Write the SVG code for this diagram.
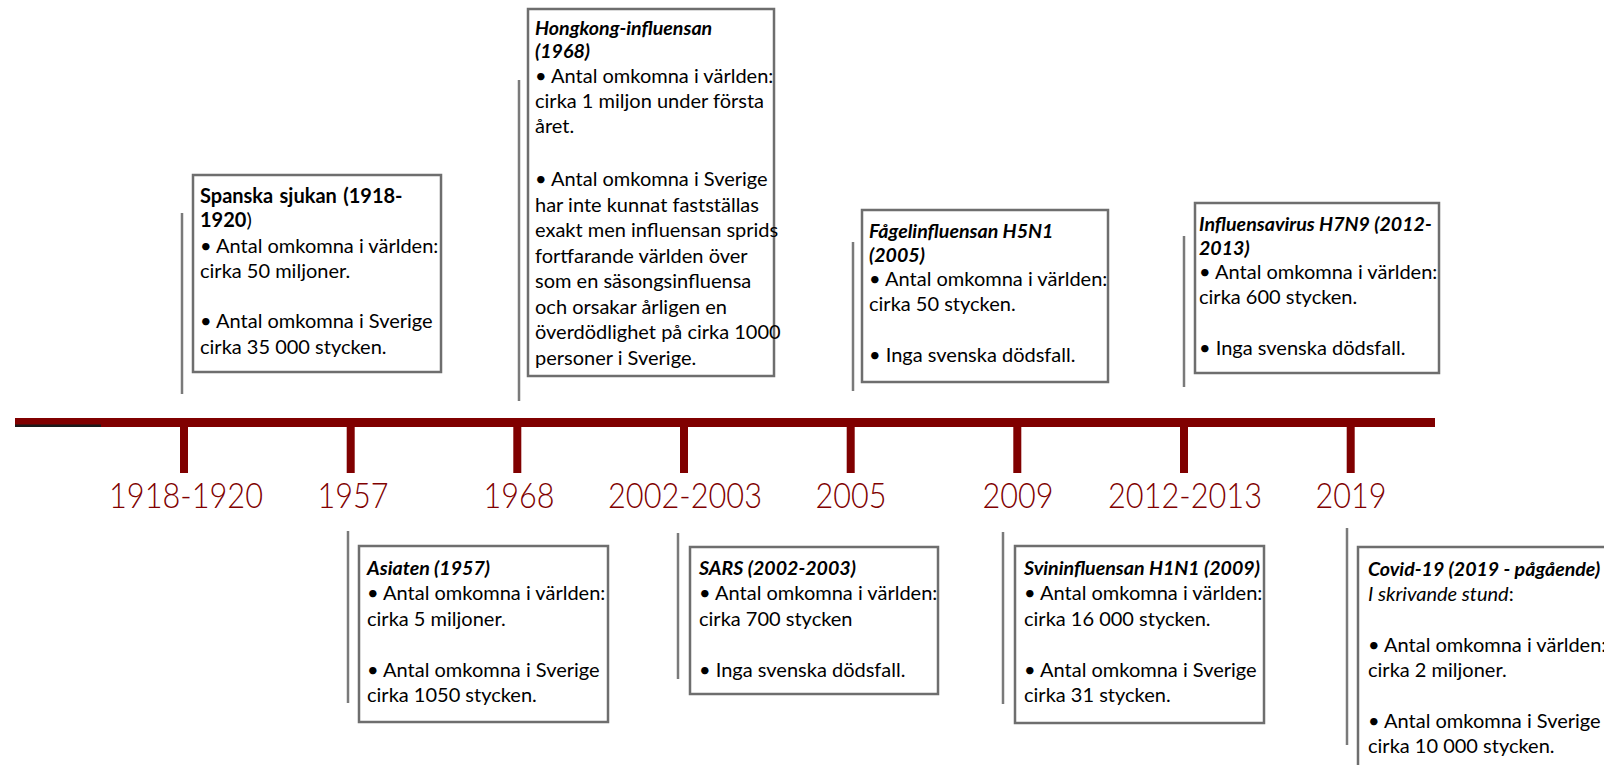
<svg xmlns="http://www.w3.org/2000/svg" width="1604" height="765" viewBox="0 0 1604 765">
  <style>
    .box { fill: #ffffff; stroke: #6e6e6e; stroke-width: 2.5; }
    .lead { stroke: #7a7a7a; stroke-width: 2.5; fill: none; }
    .bar { fill: #800000; }
    .t { font-family: Lato, "Liberation Sans", sans-serif; font-size: 20px; fill: #000000; }
    .h { font-weight: bold; font-style: italic; font-size: 19.6px; }
    .b { font-weight: bold; }
    .n { font-weight: normal; font-style: normal; }
    .i { font-style: italic; }
    .yr { font-family: Lato, "Liberation Sans", sans-serif; font-weight: 300; font-size: 35px; fill: #800000; text-anchor: middle; }
  </style>
  <rect width="1604" height="765" fill="#ffffff"/>

  <!-- timeline axis with year ticks -->
  <g id="timeline">
    <rect class="bar" x="15" y="418" width="1420" height="9"/>
    <rect x="15" y="424.5" width="86" height="2.5" fill="#1a1a1a"/>
    <rect class="bar" x="180" y="426" width="8" height="47"/>
    <rect class="bar" x="346.7" y="426" width="8" height="47"/>
    <rect class="bar" x="513.3" y="426" width="8" height="47"/>
    <rect class="bar" x="680" y="426" width="8" height="47"/>
    <rect class="bar" x="846.7" y="426" width="8" height="47"/>
    <rect class="bar" x="1013.3" y="426" width="8" height="47"/>
    <rect class="bar" x="1180" y="426" width="8" height="47"/>
    <rect class="bar" x="1346.7" y="426" width="8" height="47"/>
    <text class="yr" x="186" y="508" textLength="154" lengthAdjust="spacingAndGlyphs">1918-1920</text>
    <text class="yr" x="353" y="508" textLength="71" lengthAdjust="spacingAndGlyphs">1957</text>
    <text class="yr" x="519" y="508" textLength="71" lengthAdjust="spacingAndGlyphs">1968</text>
    <text class="yr" x="685" y="508" textLength="154" lengthAdjust="spacingAndGlyphs">2002-2003</text>
    <text class="yr" x="851" y="508" textLength="71" lengthAdjust="spacingAndGlyphs">2005</text>
    <text class="yr" x="1018" y="508" textLength="71" lengthAdjust="spacingAndGlyphs">2009</text>
    <text class="yr" x="1185" y="508" textLength="154" lengthAdjust="spacingAndGlyphs">2012-2013</text>
    <text class="yr" x="1351" y="508" textLength="71" lengthAdjust="spacingAndGlyphs">2019</text>
  </g>

  <!-- lead lines beside each event box -->
  <g id="connectors">
    <line class="lead" x1="182" y1="213" x2="182" y2="394"/>
    <line class="lead" x1="519" y1="80" x2="519" y2="401"/>
    <line class="lead" x1="853" y1="242" x2="853" y2="391"/>
    <line class="lead" x1="1184" y1="236" x2="1184" y2="387"/>
    <line class="lead" x1="348" y1="531" x2="348" y2="703"/>
    <line class="lead" x1="678" y1="533" x2="678" y2="679"/>
    <line class="lead" x1="1003" y1="532" x2="1003" y2="704"/>
    <line class="lead" x1="1347" y1="528" x2="1347" y2="745"/>
  </g>

  <g id="spanska-sjukan">
    <rect class="box" x="193" y="175" width="248" height="197"/>
    <text class="t" x="200" y="203" font-size="19.4" word-spacing="1.5"><tspan class="b">Spanska sjukan  (1918-</tspan></text>
    <text class="t" x="200" y="227" font-size="19.4"><tspan class="b">1920</tspan>)</text>
    <text class="t" x="200" y="253">• Antal omkomna i världen:</text>
    <text class="t" x="200" y="278">cirka 50 miljoner.</text>
    <text class="t" x="200" y="328">• Antal omkomna i Sverige</text>
    <text class="t" x="200" y="354">cirka 35 000 stycken.</text>
  </g>

  <g id="hongkong">
    <rect class="box" x="528" y="9" width="246" height="367"/>
    <text class="t h" x="535" y="35">Hongkong-influensan</text>
    <text class="t h" x="535" y="58">(1968)</text>
    <text class="t" x="535" y="83">• Antal omkomna i världen:</text>
    <text class="t" x="535" y="108">cirka 1 miljon under första</text>
    <text class="t" x="535" y="133">året.</text>
    <text class="t" x="535" y="186">• Antal omkomna i Sverige</text>
    <text class="t" x="535" y="211.5">har inte kunnat fastställas</text>
    <text class="t" x="535" y="237">exakt men influensan sprids</text>
    <text class="t" x="535" y="262.5">fortfarande världen över</text>
    <text class="t" x="535" y="288">som en säsongsinfluensa</text>
    <text class="t" x="535" y="313.5">och orsakar årligen en</text>
    <text class="t" x="535" y="339">överdödlighet på cirka 1000</text>
    <text class="t" x="535" y="364.5">personer i Sverige.</text>
  </g>

  <g id="fagelinfluensan">
    <rect class="box" x="862" y="210" width="246" height="172"/>
    <text class="t h" x="869" y="238">Fågelinfluensan H5N1</text>
    <text class="t h" x="869" y="262">(2005)</text>
    <text class="t" x="869" y="286">• Antal omkomna i världen:</text>
    <text class="t" x="869" y="311">cirka 50 stycken.</text>
    <text class="t" x="869" y="362">• Inga svenska dödsfall.</text>
  </g>

  <g id="h7n9">
    <rect class="box" x="1195" y="203" width="244" height="170"/>
    <text class="t h" x="1199" y="231">Influensavirus H7N9  (2012-</text>
    <text class="t h" x="1199" y="255">2013)</text>
    <text class="t" x="1199" y="279">• Antal omkomna i världen:</text>
    <text class="t" x="1199" y="304">cirka 600 stycken.</text>
    <text class="t" x="1199" y="355">• Inga svenska dödsfall.</text>
  </g>

  <g id="asiaten">
    <rect class="box" x="359" y="546" width="249" height="176"/>
    <text class="t h" x="367" y="575">Asiaten (1957)</text>
    <text class="t" x="367" y="600">• Antal omkomna i världen:</text>
    <text class="t" x="367" y="626">cirka 5 miljoner.</text>
    <text class="t" x="367" y="677">• Antal omkomna i Sverige</text>
    <text class="t" x="367" y="702">cirka 1050 stycken.</text>
  </g>

  <g id="sars">
    <rect class="box" x="690" y="547" width="248" height="147"/>
    <text class="t h" x="699" y="575">SARS (2002-2003)</text>
    <text class="t" x="699" y="600">• Antal omkomna i världen:</text>
    <text class="t" x="699" y="626">cirka 700 stycken</text>
    <text class="t" x="699" y="677">• Inga svenska dödsfall.</text>
  </g>

  <g id="svininfluensan">
    <rect class="box" x="1015" y="546" width="249" height="177"/>
    <text class="t h" x="1024" y="575">Svininfluensan H1N1 (2009)</text>
    <text class="t" x="1024" y="600">• Antal omkomna i världen:</text>
    <text class="t" x="1024" y="626">cirka 16 000 stycken.</text>
    <text class="t" x="1024" y="677">• Antal omkomna i Sverige</text>
    <text class="t" x="1024" y="702">cirka 31 stycken.</text>
  </g>

  <g id="covid-19">
    <rect class="box" x="1358" y="547" width="260" height="240"/>
    <text class="t h" x="1368" y="576">Covid-19  (2019 - pågående)</text>
    <text class="t" x="1368" y="601"><tspan class="i">I skrivande stund</tspan>:</text>
    <text class="t" x="1368" y="652">• Antal omkomna i världen:</text>
    <text class="t" x="1368" y="677">cirka 2 miljoner.</text>
    <text class="t" x="1368" y="728">• Antal omkomna i Sverige</text>
    <text class="t" x="1368" y="753">cirka 10 000 stycken.</text>
  </g>
</svg>
